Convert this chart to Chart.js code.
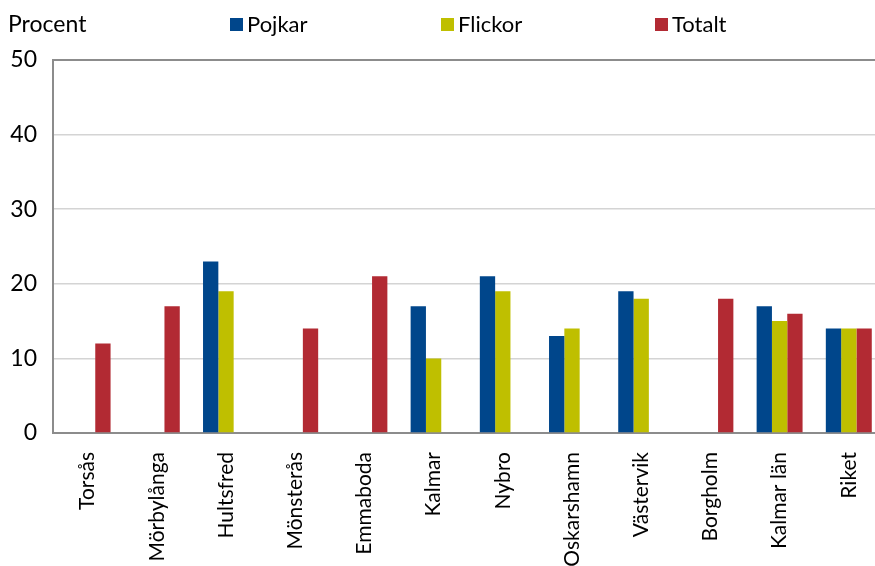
<!DOCTYPE html>
<html>
<head>
<meta charset="utf-8">
<script src="https://cdn.jsdelivr.net/npm/chart.js@4"></script>
<style>
  html, body { margin: 0; padding: 0; background: #fff; overflow: hidden; }
  #wrap { width: 885px; height: 566px; }
</style>
</head>
<body>
<div id="wrap"><canvas id="chart" width="885" height="566"></canvas></div>
<script>
const categories = ["Torsås", "Mörbylånga", "Hultsfred", "Mönsterås", "Emmaboda", "Kalmar",
  "Nybro", "Oskarshamn", "Västervik", "Borgholm", "Kalmar län", "Riket"];
const pojkar  = [null, null, 23, null, null, 17, 21, 13, 19, null, 17, 14];
const flickor = [null, null, 19, null, null, 10, 19, 14, 18, null, 15, 14];
const totalt  = [12, 17, null, 14, 21, null, null, null, null, 18, 16, 14];
const yTicks = [0, 10, 20, 30, 40, 50];
const yTitle = "Procent";

const FONT = "Lato, 'DejaVu Sans', sans-serif";

// legend + "Procent" drawn in the top strip
const topLegend = {
  id: "topLegend",
  afterDraw(chart) {
    const ctx = chart.ctx;
    const xs = [230, 441, 655];
    ctx.save();
    ctx.fillStyle = "#000";
    ctx.textBaseline = "middle";
    ctx.font = "23px " + FONT;
    ctx.fillText(yTitle, 8, 25);
    ctx.font = "22px " + FONT;
    chart.data.datasets.forEach((ds, i) => {
      ctx.fillStyle = ds.backgroundColor;
      ctx.fillRect(xs[i], 18, 13, 13);
      ctx.fillStyle = "#000";
      ctx.fillText(ds.label, xs[i] + 17, 25);
    });
    ctx.restore();
  }
};

new Chart(document.getElementById("chart"), {
  type: "bar",
  data: {
    labels: categories,
    datasets: [
      { label: "Pojkar", data: pojkar, backgroundColor: "#00468b" },
      { label: "Flickor", data: flickor, backgroundColor: "#bfbf00" },
      { label: "Totalt", data: totalt, backgroundColor: "#b22a33" },
    ],
  },
  options: {
    responsive: false,
    animation: false,
    layout: { padding: { top: 60, left: 0, right: 0, bottom: 0 } },
    datasets: { bar: { categoryPercentage: 0.664, barPercentage: 1.0 } },
    plugins: { legend: { display: false }, tooltip: { enabled: false } },
    scales: {
      x: {
        afterFit: (s) => { s.height = 133; },
        grid: { display: false },
        border: { color: "#8c8c8c", width: 2 },
        ticks: {
          color: "#000",
          font: { family: FONT, size: 21 },
          minRotation: 90,
          maxRotation: 90,
          padding: 11,
          autoSkip: false,
        },
      },
      y: {
        min: 0,
        max: 50,
        afterFit: (s) => { s.width = 53; },
        afterBuildTicks: (s) => { s.ticks = yTicks.map((v) => ({ value: v })); },
        grid: {
          color: (c) => (c.tick && c.tick.value === 50 ? "#8c8c8c" : "#d4d4d4"),
          lineWidth: (c) => (c.tick && c.tick.value === 50 ? 2 : 1.5),
          drawTicks: false,
        },
        border: { color: "#8c8c8c", width: 2 },
        ticks: {
          color: "#000",
          font: { family: FONT, size: 23 },
          padding: 16,
        },
      },
    },
  },
  plugins: [topLegend],
});
</script>
</body>
</html>
